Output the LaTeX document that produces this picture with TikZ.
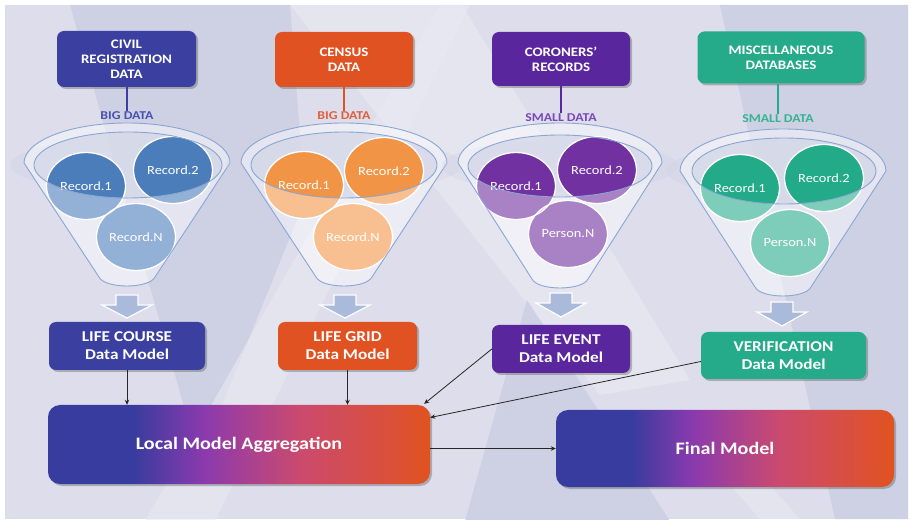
\documentclass[tikz,border=0pt]{standalone}
\usepackage{fontspec}
\setmainfont{Carlito}[FakeStretch=1.15]
\usetikzlibrary{shapes.geometric,shadows,arrows.meta,calc}

\definecolor{bgbase}{HTML}{DDDDEB}
\definecolor{bgdark}{HTML}{CED1E4}
\definecolor{bglight}{HTML}{E9E9F3}
\definecolor{cblue}{HTML}{3A3FA0}
\definecolor{corange}{HTML}{E05222}
\definecolor{cpurple}{HTML}{5A269E}
\definecolor{cteal}{HTML}{25AB8A}
\definecolor{lblblue}{HTML}{4A52B0}
\definecolor{lblorange}{HTML}{E0603A}
\definecolor{lblpurple}{HTML}{7A48B8}
\definecolor{lblteal}{HTML}{35B393}
\definecolor{blueD}{HTML}{4B7DBB}
\definecolor{blueL}{HTML}{93B0D6}
\definecolor{orangeD}{HTML}{F29446}
\definecolor{orangeL}{HTML}{F8C090}
\definecolor{purpleD}{HTML}{7131A0}
\definecolor{purpleL}{HTML}{A982C6}
\definecolor{tealD}{HTML}{23AA89}
\definecolor{tealL}{HTML}{7ECDBA}
\definecolor{rim}{HTML}{8AA6D2}
\definecolor{blockarrow}{HTML}{A9BADA}
\definecolor{gA}{HTML}{373C9E}
\definecolor{gB}{HTML}{8C3AAE}
\definecolor{gC}{HTML}{CB4A6E}
\definecolor{gD}{HTML}{DB5038}
\definecolor{gE}{HTML}{E0531F}

\pgfdeclarehorizontalshading{aggr}{100bp}{color(0bp)=(gA); color(36bp)=(gA); color(45.5bp)=(gB); color(58bp)=(gC); color(70bp)=(gD); color(75bp)=(gE); color(100bp)=(gE)}

\tikzset{
  box/.style={rounded corners=7pt, text=white, align=center, inner sep=0pt,
    drop shadow={shadow xshift=2pt, shadow yshift=-2pt, opacity=0.35, fill=black!70}},
  topfont/.style={font=\fontsize{13}{15}\selectfont\bfseries},
  dmfont/.style={font=\fontsize{15}{18}\selectfont\bfseries},
  bigfont/.style={font=\fontsize{17.5}{20}\selectfont\bfseries},
  lbl/.style={font=\fontsize{12}{14}\selectfont\bfseries, inner sep=1pt},
  reccirc/.style={ellipse, draw=white, line width=1.3pt, minimum width=79pt, minimum height=67pt,
    inner sep=0pt, text=white, font=\fontsize{12.5}{14}\selectfont},
  funnelbody/.style={fill=white, fill opacity=0.45},
  funnelline/.style={draw=rim, line width=0.9pt},
  conn/.style={-{Stealth[length=5pt,width=4.5pt]}, line width=0.8pt, black!85},
  vline/.style={line width=2pt},
  barrow/.style={fill=blockarrow, draw=white, line width=1.2pt, line join=miter}
}

% funnel body: cx, cy (outer rim centre), rx, ry, bottom y
\newcommand\funnelpath[5]{({#1-#3},#2) .. controls ({#1-#3},{#2-0.552*#4}) and ({#1-0.552*#3},{#2-#4}) .. (#1,{#2-#4})
  .. controls ({#1+0.552*#3},{#2-#4}) and ({#1+#3},{#2-0.552*#4}) .. ({#1+#3},#2)
  -- ({#1+28},{#5-9}) .. controls ({#1+22},{#5+3}) and ({#1-22},{#5+3}) .. ({#1-28},{#5-9}) -- cycle}
\newcommand\blockarr[3]{\path[barrow] ({#1-11},#2) -- ({#1+11},#2) -- ({#1+11},{#2+10}) -- ({#1+25},{#2+10})
  -- (#1,#3) -- ({#1-25},{#2+10}) -- ({#1-11},{#2+10}) -- cycle;}

\begin{document}
\begin{tikzpicture}[x=1pt,y=-1pt]
\useasboundingbox (0,0) rectangle (911,521);
% ---------- background ----------
\fill[white] (0,0) rectangle (911,521);
\fill[bgbase] (5,5) rectangle (908,519);
\begin{scope}
  \clip (5,5) rectangle (908,519);
  \fill[bgdark] (70,5) -- (290,5) -- (305,200) -- (220,410) -- (185,410) -- cycle;
  \fill[bglight, opacity=0.7] (290,5) -- (462,5) -- (690,380) -- (600,395) -- cycle;
  \fill[bglight, opacity=0.6] (440,5) -- (470,5) -- (215,521) -- (145,521) -- cycle;
  \fill[bgdark] (527,300) -- (670,521) -- (465,521) -- cycle;
  \fill[bgdark] (720,5) -- (908,5) -- (908,519) -- (835,519) -- cycle;
  \fill[bglight, opacity=0.6] (690,440) -- (730,440) -- (800,519) -- (760,519) -- cycle;
\end{scope}

% ---------- top source boxes ----------
\node[box, topfont, fill=cblue, minimum width=139pt, minimum height=56pt] (civ) at (126.5,59) {CIVIL\\REGISTRATION\\DATA};
\node[box, topfont, fill=corange, minimum width=138pt, minimum height=55pt] (cen) at (344,59.5) {CENSUS\\DATA};
\node[box, topfont, fill=cpurple, minimum width=138pt, minimum height=54pt] (cor) at (561,59) {CORONERS'\\RECORDS};
\node[box, topfont, fill=cteal, minimum width=167pt, minimum height=52pt] (misc) at (781,57.5) {MISCELLANEOUS\\DATABASES};

\node[lbl, text=lblblue] (bd1) at (127,116) {BIG DATA};
\node[lbl, text=lblorange] (bd2) at (344,116) {BIG DATA};
\node[lbl, text=lblpurple] (sd1) at (561,118) {SMALL DATA};
\node[lbl, text=lblteal] (sd2) at (778,119) {SMALL DATA};

\draw[vline, cblue] (civ.south) -- (civ.south |- bd1.north);
\draw[vline, corange] (cen.south) -- (cen.south |- bd2.north);
\draw[vline, cpurple] (cor.south) -- (cor.south |- sd1.north);
\draw[vline, cteal] (misc.south -| sd2) -- (sd2.north);

% ---------- funnels ----------
% funnel 1
\fill[bgdark, opacity=0.3] (128,165) ellipse [x radius=118pt, y radius=26pt];
\path[funnelbody] \funnelpath{127}{163}{103}{40}{286};
\fill[bgdark, opacity=0.6] (128,165) ellipse [x radius=94pt, y radius=33pt];
\fill[blueL] (86,186) ellipse [x radius=39.5pt, y radius=33.5pt];
\fill[blueL] (173,170) ellipse [x radius=39.5pt, y radius=33.5pt];
\fill[blueL] (136,237) ellipse [x radius=39.5pt, y radius=33.5pt];
\begin{scope}
  \clip (128,165) ellipse [x radius=94pt, y radius=33pt];
  \fill[blueD] (86,186) ellipse [x radius=39.5pt, y radius=33.5pt];
  \fill[blueD] (173,170) ellipse [x radius=39.5pt, y radius=33.5pt];
\end{scope}
\node[reccirc] (f1a) at (86,186) {Record.1};
\node[reccirc] (f1b) at (173,170) {Record.2};
\node[reccirc] (f1n) at (136,237) {Record.N};
\path[funnelline] \funnelpath{127}{163}{103}{40}{286};
\draw[funnelline] (128,165) ellipse [x radius=94pt, y radius=33pt];

% funnel 2
\fill[bgdark, opacity=0.3] (344,165) ellipse [x radius=118pt, y radius=26pt];
\path[funnelbody] \funnelpath{344}{163}{103}{40}{286};
\fill[bgdark, opacity=0.6] (344,165) ellipse [x radius=93pt, y radius=33pt];
\fill[orangeL] (304,185) ellipse [x radius=39.5pt, y radius=33.5pt];
\fill[orangeL] (384,171) ellipse [x radius=39.5pt, y radius=33.5pt];
\fill[orangeL] (353,237) ellipse [x radius=39.5pt, y radius=33.5pt];
\begin{scope}
  \clip (344,165) ellipse [x radius=93pt, y radius=33pt];
  \fill[orangeD] (304,185) ellipse [x radius=39.5pt, y radius=33.5pt];
  \fill[orangeD] (384,171) ellipse [x radius=39.5pt, y radius=33.5pt];
\end{scope}
\node[reccirc] (f2a) at (304,185) {Record.1};
\node[reccirc] (f2b) at (384,171) {Record.2};
\node[reccirc] (f2n) at (353,237) {Record.N};
\path[funnelline] \funnelpath{344}{163}{103}{40}{286};
\draw[funnelline] (344,165) ellipse [x radius=93pt, y radius=33pt];

% funnel 3
\fill[bgdark, opacity=0.3] (560,166) ellipse [x radius=118pt, y radius=26pt];
\path[funnelbody] \funnelpath{560}{163}{102}{40}{288};
\fill[bgdark, opacity=0.6] (560,166) ellipse [x radius=92pt, y radius=31pt];
\fill[purpleL] (516,186) ellipse [x radius=39.5pt, y radius=33.5pt];
\fill[purpleL] (597,170) ellipse [x radius=39.5pt, y radius=33.5pt];
\fill[purpleL] (568,234) ellipse [x radius=39.5pt, y radius=33.5pt];
\begin{scope}
  \clip (560,166) ellipse [x radius=92pt, y radius=31pt];
  \fill[purpleD] (516,186) ellipse [x radius=39.5pt, y radius=33.5pt];
  \fill[purpleD] (597,170) ellipse [x radius=39.5pt, y radius=33.5pt];
\end{scope}
\node[reccirc] (f3a) at (516,186) {Record.1};
\node[reccirc] (f3b) at (597,170) {Record.2};
\node[reccirc] (f3n) at (568,234) {Person.N};
\path[funnelline] \funnelpath{560}{163}{102}{40}{288};
\draw[funnelline] (560,166) ellipse [x radius=92pt, y radius=31pt];

% funnel 4
\fill[bgdark, opacity=0.3] (784,171) ellipse [x radius=118pt, y radius=26pt];
\path[funnelbody] \funnelpath{783}{171}{103}{42}{296};
\fill[bgdark, opacity=0.6] (784,171) ellipse [x radius=92pt, y radius=33pt];
\fill[tealL] (740,188) ellipse [x radius=39.5pt, y radius=33.5pt];
\fill[tealL] (824,178) ellipse [x radius=39.5pt, y radius=33.5pt];
\fill[tealL] (790,243) ellipse [x radius=39.5pt, y radius=33.5pt];
\begin{scope}
  \clip (784,171) ellipse [x radius=92pt, y radius=33pt];
  \fill[tealD] (740,188) ellipse [x radius=39.5pt, y radius=33.5pt];
  \fill[tealD] (824,178) ellipse [x radius=39.5pt, y radius=33.5pt];
\end{scope}
\node[reccirc] (f4a) at (740,188) {Record.1};
\node[reccirc] (f4b) at (824,178) {Record.2};
\node[reccirc] (f4n) at (790,243) {Person.N};
\path[funnelline] \funnelpath{783}{171}{103}{42}{296};
\draw[funnelline] (784,171) ellipse [x radius=92pt, y radius=33pt];

% ---------- block arrows ----------
\blockarr{127}{295}{318}
\blockarr{345}{295}{318}
\blockarr{561}{293}{317}
\blockarr{782}{302}{326}

% ---------- data model boxes ----------
\node[box, dmfont, fill=cblue, minimum width=156pt, minimum height=48pt] (lc) at (127,346) {LIFE COURSE\\Data Model};
\node[box, dmfont, fill=corange, minimum width=139pt, minimum height=48pt] (lg) at (347.5,346) {LIFE GRID\\Data Model};
\node[box, dmfont, fill=cpurple, minimum width=138pt, minimum height=48pt] (ev) at (561,349) {LIFE EVENT\\Data Model};
\node[box, dmfont, fill=cteal, minimum width=165pt, minimum height=47pt] (ver) at (783.5,355.5) {VERIFICATION\\Data Model};

% ---------- aggregation ----------
\node[box, bigfont, rounded corners=12pt, shading=aggr, minimum width=382pt, minimum height=79pt] (lma) at (239,444.5) {Local Model Aggregation};
\node[box, bigfont, rounded corners=12pt, shading=aggr, minimum width=338pt, minimum height=77pt] (fin) at (725,448.5) {Final Model};

% ---------- connectors ----------
\draw[conn] (lc.south) -- (lc.south |- lma.north);
\draw[conn] (lg.south) -- (lg.south |- lma.north);
\draw[conn] (ev.west) -- ([xshift=-6pt,yshift=1pt]lma.north east);
\draw[conn] ([yshift=-6pt]ver.west) -- ([yshift=27pt]lma.east);
\draw[conn] (lma.east |- fin.west) -- (fin.west);
\end{tikzpicture}
\end{document}
